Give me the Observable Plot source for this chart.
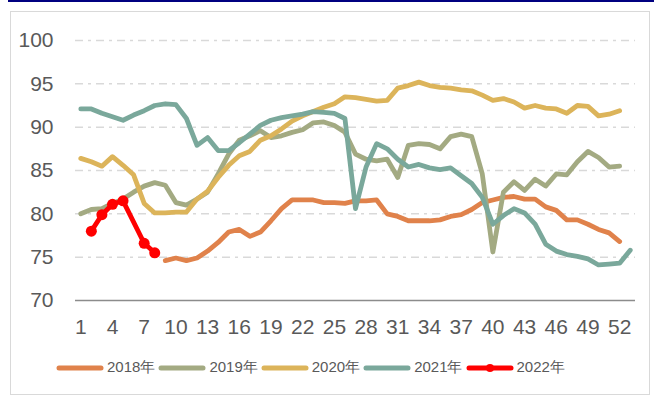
<!DOCTYPE html>
<html><head><meta charset="utf-8">
<script src="https://cdn.jsdelivr.net/npm/d3@7"></script>
<script src="https://cdn.jsdelivr.net/npm/@observablehq/plot@0.6"></script>
<style>
body{margin:0;background:#fff;font-family:"Liberation Sans",Arial,sans-serif;}
#wrap{position:relative;width:654px;height:400px;overflow:hidden;background:#fff;}
#bar{position:absolute;left:8px;top:0;width:646px;height:2px;background:#000080;}
#frame{position:absolute;left:10px;top:11px;width:638px;height:382px;border:1.5px solid #d9d9d9;}
#chart{position:absolute;left:0;top:0;}
#legend{position:absolute;left:56px;top:358px;display:flex;align-items:center;color:#595959;font-size:15px;}
.item{display:flex;align-items:center;margin-right:3px;}
.item svg{margin-right:3px;}
</style>
</head><body>
<div id="wrap"><div id="bar"></div><div id="frame"></div><div id="chart"></div><div id="legend"></div></div>
<script>
const years = ["2018年","2019年","2020年","2021年","2022年"];
const colors = ["#E0824B","#A3AA82","#DCB45A","#7AA89B","#FF0000"];
const xTicks = [1,4,7,10,13,16,19,22,25,28,31,34,37,40,43,46,49,52];
const yTicks = [70,75,80,85,90,95,100];

const v2018 = [null,null,null,null,null,null,null,null,74.6,74.9,74.6,74.9,75.7,76.7,77.9,78.2,77.4,77.9,79.2,80.6,81.6,81.6,81.6,81.3,81.3,81.2,81.5,81.5,81.6,80.0,79.7,79.2,79.2,79.2,79.3,79.7,79.9,80.5,81.3,81.6,81.9,82.0,81.7,81.7,80.8,80.4,79.3,79.3,78.8,78.2,77.8,76.8];
const v2019 = [80.0,80.5,80.6,81.2,81.7,82.5,83.2,83.6,83.3,81.3,81.0,81.7,82.5,84.6,86.9,88.5,89.0,89.6,88.8,89.0,89.4,89.7,90.5,90.6,90.2,89.4,86.9,86.3,86.1,86.3,84.2,87.9,88.1,88.0,87.5,88.9,89.2,88.9,84.6,75.6,82.5,83.7,82.7,84.0,83.2,84.6,84.5,86.0,87.2,86.5,85.4,85.5];
const v2020 = [86.4,86.0,85.5,86.6,85.6,84.5,81.2,80.1,80.1,80.2,80.2,81.7,82.6,84.2,85.6,86.7,87.2,88.5,89.0,89.8,90.7,91.3,91.8,92.3,92.7,93.5,93.4,93.2,93.0,93.1,94.5,94.8,95.2,94.8,94.6,94.5,94.3,94.2,93.7,93.1,93.3,92.9,92.2,92.5,92.2,92.1,91.6,92.5,92.4,91.3,91.5,91.9];
const v2021 = [92.1,92.1,91.6,91.2,90.8,91.4,91.9,92.5,92.7,92.6,91.0,87.9,88.8,87.3,87.3,88.2,89.2,90.2,90.8,91.1,91.3,91.5,91.8,91.7,91.6,91.0,80.6,85.4,88.1,87.5,86.3,85.4,85.7,85.3,85.1,85.3,84.4,83.5,81.9,78.8,79.8,80.6,80.1,78.8,76.5,75.7,75.3,75.1,74.8,74.1,74.2,74.3,75.8];
const v2022 = [null,78.0,79.9,81.1,81.5,null,76.6,75.5];

const series = [v2018,v2019,v2020,v2021,v2022];
const rows = [];
series.forEach((arr,k)=>arr.forEach((v,i)=>{ if(v!=null) rows.push({year:years[k], week:i+1, value:v}); }));
const rows2022 = rows.filter(d=>d.year==="2022年");

const plot = Plot.plot({
  width:654, height:340,
  marginLeft:75, marginRight:19, marginTop:40, marginBottom:40,
  style:{fontFamily:"'Liberation Sans',Arial,sans-serif", fontSize:"21px", color:"#595959", background:"transparent"},
  x:{type:"linear", domain:[0.5,53.5]},
  y:{domain:[70,100]},
  color:{domain:years, range:colors},
  marks:[
    Plot.ruleY(yTicks.filter(t=>t>70), {stroke:"#d9d9d9", strokeWidth:1.5, strokeDasharray:"8,5,3,5"}),
    Plot.ruleY([70], {stroke:"#8c8c8c", strokeWidth:1.5}),
    Plot.line(rows.filter(d=>d.year!=="2022年"), {x:"week", y:"value", z:"year", stroke:"year", strokeWidth:4.8, strokeLinejoin:"round", strokeLinecap:"round"}),
    Plot.line(rows2022, {x:"week", y:"value", stroke:"year", strokeWidth:4.8, strokeLinejoin:"round"}),
    Plot.dot(rows2022, {x:"week", y:"value", fill:"year", r:5.5, stroke:"none"}),
    Plot.axisX({ticks:xTicks, tickSize:0, tickPadding:19, label:null, tickFormat:d=>String(d)}),
    Plot.axisY({ticks:yTicks, tickSize:0, tickPadding:22, label:null})
  ]
});
document.getElementById("chart").appendChild(plot);

const legend = document.getElementById("legend");
years.forEach((y,k)=>{
  const it = document.createElement("div"); it.className="item";
  const dot = k===4 ? `<circle cx="24" cy="6" r="4" fill="${colors[k]}"/>` : "";
  it.innerHTML = `<svg width="48" height="12"><line x1="3" y1="6" x2="45" y2="6" stroke="${colors[k]}" stroke-width="5" stroke-linecap="round"/>${dot}</svg><span>${y}</span>`;
  legend.appendChild(it);
});
</script>
</body></html>
